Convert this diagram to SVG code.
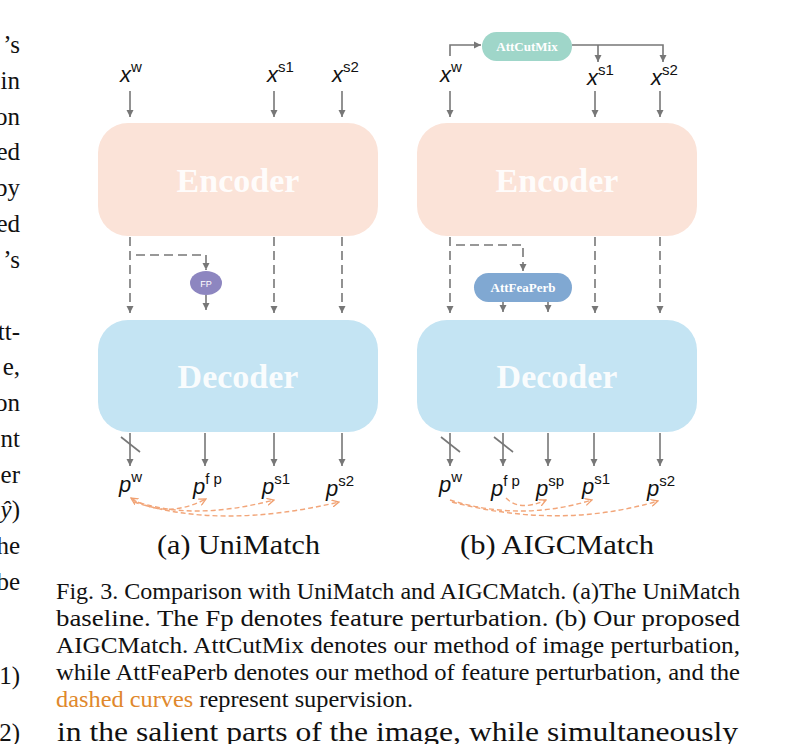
<svg xmlns="http://www.w3.org/2000/svg" width="794" height="744" viewBox="0 0 794 744">
<defs>
<marker id="ah" markerUnits="userSpaceOnUse" markerWidth="8" markerHeight="8" refX="7" refY="4" orient="auto">
<path d="M0,0.5 L7,4 L0,7.5 z" fill="#777"/>
</marker>
<marker id="oh" markerUnits="userSpaceOnUse" markerWidth="8" markerHeight="8" refX="7" refY="4" orient="auto-start-reverse">
<path d="M0,0.5 L7,4 L0,7.5" fill="none" stroke="#f0a070" stroke-width="1.3"/>
</marker>
<style>
.ln{stroke:#777;stroke-width:1.6;fill:none}
.dl{stroke:#777;stroke-width:1.6;fill:none;stroke-dasharray:9 5}
.sup{stroke:#f2a67a;stroke-width:1.4;fill:none;stroke-dasharray:5 3}
.m{font-family:"Liberation Sans",Arial,sans-serif;font-style:italic;font-size:22px;fill:#111}
.s{font-size:15px;font-style:normal}
.big{font-family:"Liberation Serif","Times New Roman",serif;font-weight:bold;font-size:34px;fill:#fff;text-anchor:middle;fill-opacity:0.92}
.pl{font-family:"Liberation Serif","Times New Roman",serif;font-weight:bold;font-size:13px;fill:#fff;text-anchor:middle}
.cap{font-family:"Liberation Serif","Times New Roman",serif;font-size:22.5px;fill:#111}
.sub{font-family:"Liberation Serif","Times New Roman",serif;font-size:28px;fill:#111}
.frag{font-family:"Liberation Serif","Times New Roman",serif;font-size:25px;fill:#111;text-anchor:end}
</style>
</defs>
<rect width="794" height="744" fill="#fff"/>

<!-- left column text fragments -->
<g id="margin">
<text class="frag" x="20" y="53">’s</text>
<text class="frag" x="20" y="89">in</text>
<text class="frag" x="20" y="125">on</text>
<text class="frag" x="20" y="160">ed</text>
<text class="frag" x="20" y="196">by</text>
<text class="frag" x="20" y="232">ed</text>
<text class="frag" x="20" y="268">’s</text>
<text class="frag" x="20" y="340">tt-</text>
<text class="frag" x="20" y="375">e,</text>
<text class="frag" x="20" y="411">on</text>
<text class="frag" x="20" y="447">nt</text>
<text class="frag" x="20" y="483">er</text>
<text class="frag" x="20" y="518"><tspan font-style="italic">ŷ</tspan>)</text>
<text class="frag" x="20" y="554">he</text>
<text class="frag" x="20" y="590">be</text>
<text class="frag" x="20" y="684">1)</text>
<text class="frag" x="20" y="741">2)</text>
</g>

<!-- (a) UniMatch -->
<g id="a-encoder"><rect x="98" y="123" width="280" height="113" rx="30" fill="#fbe3d8"/><text class="big" x="238" y="192">Encoder</text></g>
<g id="a-decoder"><rect x="98" y="320" width="280" height="112" rx="30" fill="#c4e4f3"/><text class="big" x="238" y="388">Decoder</text></g>
<g id="a-fp"><ellipse cx="206" cy="283" rx="16" ry="12" fill="#8d86c0"/><text x="206" y="287" font-family="Liberation Sans,Arial,sans-serif" font-size="9" fill="#fff" text-anchor="middle">FP</text></g>
<g id="a-labels">
<text class="m" x="120" y="82">x<tspan class="s" dy="-10">w</tspan></text>
<text class="m" x="267" y="82">x<tspan class="s" dy="-10">s1</tspan></text>
<text class="m" x="332" y="82">x<tspan class="s" dy="-10">s2</tspan></text>
<text class="m" x="119" y="492">p<tspan class="s" dy="-10">w</tspan></text>
<text class="m" x="193" y="494">p<tspan class="s" dy="-10" font-style="italic">f p</tspan></text>
<text class="m" x="262" y="494">p<tspan class="s" dy="-10">s1</tspan></text>
<text class="m" x="326" y="496">p<tspan class="s" dy="-10">s2</tspan></text>
</g>

<!-- (b) AIGCMatch -->
<g id="b-encoder"><rect x="417" y="123" width="280" height="113" rx="30" fill="#fbe3d8"/><text class="big" x="557" y="192">Encoder</text></g>
<g id="b-decoder"><rect x="417" y="320" width="280" height="112" rx="30" fill="#c4e4f3"/><text class="big" x="557" y="388">Decoder</text></g>
<g id="b-attcutmix"><rect x="482" y="32" width="90" height="29" rx="14.5" fill="#9fd6c9"/><text class="pl" x="527" y="51">AttCutMix</text></g>
<g id="b-attfeaperb"><rect x="474" y="273" width="98" height="29" rx="14.5" fill="#80a8d2"/><text class="pl" x="523" y="292">AttFeaPerb</text></g>
<g id="b-labels">
<text class="m" x="440" y="82">x<tspan class="s" dy="-10">w</tspan></text>
<text class="m" x="587" y="85">x<tspan class="s" dy="-10">s1</tspan></text>
<text class="m" x="651" y="85">x<tspan class="s" dy="-10">s2</tspan></text>
<text class="m" x="439" y="492">p<tspan class="s" dy="-10">w</tspan></text>
<text class="m" x="491" y="496">p<tspan class="s" dy="-10" font-style="italic">f p</tspan></text>
<text class="m" x="536" y="496">p<tspan class="s" dy="-10" font-style="italic">sp</tspan></text>
<text class="m" x="582" y="494">p<tspan class="s" dy="-10">s1</tspan></text>
<text class="m" x="647" y="496">p<tspan class="s" dy="-10">s2</tspan></text>
</g>

<g id="connectors">
<!-- (a) inputs -->
<path class="ln" d="M130,91 V117" marker-end="url(#ah)"/>
<path class="ln" d="M274,91 V117" marker-end="url(#ah)"/>
<path class="ln" d="M342,91 V117" marker-end="url(#ah)"/>
<!-- (a) encoder to decoder -->
<path class="dl" d="M130,237 V313" marker-end="url(#ah)"/>
<path class="dl" d="M274,237 V313" marker-end="url(#ah)"/>
<path class="dl" d="M342,237 V313" marker-end="url(#ah)"/>
<path class="dl" d="M136,255 H206 V270" marker-end="url(#ah)"/>
<path class="ln" d="M206,295 V310" marker-end="url(#ah)"/>
<!-- (a) outputs -->
<path class="ln" d="M130,433 V466" marker-end="url(#ah)"/>
<path class="ln" d="M205,433 V466" marker-end="url(#ah)"/>
<path class="ln" d="M274,433 V466" marker-end="url(#ah)"/>
<path class="ln" d="M342,433 V466" marker-end="url(#ah)"/>
<path class="ln" d="M121,437 L140,452"/>
<!-- (a) supervision -->
<path class="sup" d="M131,498 Q165,520 206,499" marker-start="url(#oh)" marker-end="url(#oh)"/>
<path class="sup" d="M132,500 Q190,522 274,500" marker-end="url(#oh)"/>
<path class="sup" d="M134,502 Q220,530 339,502" marker-end="url(#oh)"/>

<!-- (b) attcutmix -->
<path class="ln" d="M450,56 V45 H481" marker-end="url(#ah)"/>
<path class="ln" d="M572,45 H663 V62" marker-end="url(#ah)"/>
<path class="ln" d="M598,45 V62" marker-end="url(#ah)"/>
<!-- (b) inputs -->
<path class="ln" d="M450,91 V117" marker-end="url(#ah)"/>
<path class="ln" d="M595,91 V117" marker-end="url(#ah)"/>
<path class="ln" d="M660,91 V117" marker-end="url(#ah)"/>
<!-- (b) encoder to decoder -->
<path class="dl" d="M450,237 V313" marker-end="url(#ah)"/>
<path class="dl" d="M595,237 V313" marker-end="url(#ah)"/>
<path class="dl" d="M660,237 V313" marker-end="url(#ah)"/>
<path class="dl" d="M456,245 H523 V271" marker-end="url(#ah)"/>
<path class="ln" d="M503,302 V312" marker-end="url(#ah)"/>
<path class="ln" d="M548,302 V312" marker-end="url(#ah)"/>
<!-- (b) outputs -->
<path class="ln" d="M450,433 V466" marker-end="url(#ah)"/>
<path class="ln" d="M503,433 V466" marker-end="url(#ah)"/>
<path class="ln" d="M548,433 V466" marker-end="url(#ah)"/>
<path class="ln" d="M594,433 V466" marker-end="url(#ah)"/>
<path class="ln" d="M660,433 V466" marker-end="url(#ah)"/>
<path class="ln" d="M441,437 L460,452"/>
<path class="ln" d="M494,437 L513,452"/>
<!-- (b) supervision -->
<path class="sup" d="M506,498 Q520,512 546,500" marker-end="url(#oh)"/>
<path class="sup" d="M450,500 Q520,522 592,500" marker-end="url(#oh)"/>
<path class="sup" d="M452,502 Q560,530 658,501" marker-end="url(#oh)"/>
</g>

<!-- sub captions -->
<text class="sub" x="157" y="554" textLength="163" lengthAdjust="spacingAndGlyphs">(a) UniMatch</text>
<text class="sub" x="460" y="554" textLength="194" lengthAdjust="spacingAndGlyphs">(b) AIGCMatch</text>

<!-- figure caption -->
<g id="caption">
<text class="cap" x="56" y="599" textLength="684" lengthAdjust="spacingAndGlyphs">Fig. 3.  Comparison with UniMatch and AIGCMatch. (a)The UniMatch</text>
<text class="cap" x="56" y="626" textLength="684" lengthAdjust="spacingAndGlyphs">baseline. The Fp denotes feature perturbation. (b) Our proposed</text>
<text class="cap" x="56" y="653" textLength="684" lengthAdjust="spacingAndGlyphs">AIGCMatch. AttCutMix denotes our method of image perturbation,</text>
<text class="cap" x="56" y="680" textLength="684" lengthAdjust="spacingAndGlyphs">while AttFeaPerb denotes our method of feature perturbation, and the</text>
<text class="cap" x="56" y="707" textLength="357" lengthAdjust="spacingAndGlyphs"><tspan fill="#e0882c">dashed curves</tspan> represent supervision.</text>
</g>
<text x="57" y="741" font-family="Liberation Serif,Times New Roman,serif" font-size="27" fill="#111" textLength="681" lengthAdjust="spacingAndGlyphs">in the salient parts of the image, while simultaneously</text>
</svg>
